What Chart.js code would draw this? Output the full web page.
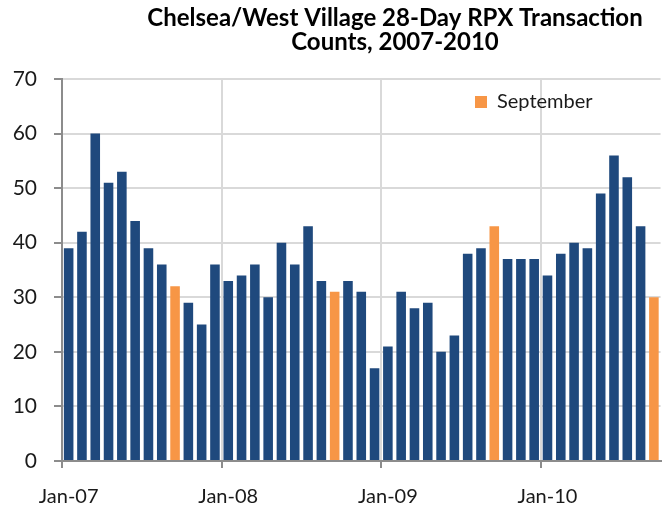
<!DOCTYPE html>
<html><head><meta charset="utf-8">
<script src="https://cdn.jsdelivr.net/npm/chart.js@4"></script>
<style>html,body{margin:0;padding:0;background:#fff}#wrap{width:671px;height:515px}</style>
</head><body><div id="wrap"><canvas id="c" width="671" height="515"></canvas></div>
<script>
const categories = [
  'Jan-07','Feb-07','Mar-07','Apr-07','May-07','Jun-07','Jul-07','Aug-07','Sep-07','Oct-07','Nov-07','Dec-07',
  'Jan-08','Feb-08','Mar-08','Apr-08','May-08','Jun-08','Jul-08','Aug-08','Sep-08','Oct-08','Nov-08','Dec-08',
  'Jan-09','Feb-09','Mar-09','Apr-09','May-09','Jun-09','Jul-09','Aug-09','Sep-09','Oct-09','Nov-09','Dec-09',
  'Jan-10','Feb-10','Mar-10','Apr-10','May-10','Jun-10','Jul-10','Aug-10','Sep-10'
];
const otherMonths = [
  39,42,60,51,53,44,39,36,null,29,25,36,
  33,34,36,30,40,36,43,33,null,33,31,17,
  21,31,28,29,20,23,38,39,null,37,37,37,
  34,38,40,39,49,56,52,43,null
];
const septemberMonths = [
  null,null,null,null,null,null,null,null,32,null,null,null,
  null,null,null,null,null,null,null,null,31,null,null,null,
  null,null,null,null,null,null,null,null,43,null,null,null,
  null,null,null,null,null,null,null,null,30
];
const yTicks = [0,10,20,30,40,50,60,70];
const titleLines = ['Chelsea/West Village 28-Day RPX Transaction', 'Counts, 2007-2010'];
const legendLabel = 'September';

const BLUE = '#1F497D', ORANGE = '#F79646';
const GRID = '#d9d9d9', AXIS = '#8c8c8c', TEXT = '#1a1a1a';
const FONT = 'Lato, "DejaVu Sans", sans-serif';

const shiftPlugin = {
  id: 'shift',
  afterLayout(chart) {
    const t = chart.titleBlock;
    if (t) { const c = (t.left + t.right) / 2; const d = 395 - c; t.left += d; t.right += d; }
    const l = chart.legend;
    if (l) { const w = l.width, h = l.height; l.left = 465; l.top = 82; l.right = l.left + w; l.bottom = l.top + h; }
  }
};

new Chart(document.getElementById('c'), {
  type: 'bar',
  data: {
    labels: categories,
    datasets: [
      { label: 'Other', data: otherMonths, backgroundColor: BLUE, grouped: false, barPercentage: 0.72, categoryPercentage: 1.0 },
      { label: legendLabel, data: septemberMonths, backgroundColor: ORANGE, grouped: false, barPercentage: 0.72, categoryPercentage: 1.0 }
    ]
  },
  options: {
    responsive: false,
    animation: false,
    devicePixelRatio: 1,
    layout: { padding: { left: 0, right: 10, top: 0, bottom: 0 } },
    plugins: {
      title: {
        display: true, text: titleLines, color: '#000',
        font: { family: FONT, size: 24, weight: 'bold', lineHeight: 1.0 },
        padding: { top: 6, bottom: 25 }
      },
      legend: {
        display: true, position: 'chartArea', align: 'start',
        labels: {
          filter: (item) => item.text === legendLabel,
          boxWidth: 12, boxHeight: 12, padding: 10, color: TEXT,
          font: { family: FONT, size: 20 }
        }
      },
      tooltip: { enabled: false }
    },
    scales: {
      x: {
        type: 'category', offset: true,
        grid: {
          offset: true, lineWidth: 2, tickLength: 7, tickWidth: 2,
          color: (ctx) => (ctx.index % 12 === 0 && ctx.index !== 0) ? GRID : 'rgba(0,0,0,0)',
          tickColor: (ctx) => (ctx.index % 12 === 0 && ctx.index < categories.length) ? AXIS : 'rgba(0,0,0,0)'
        },
        border: { color: AXIS, width: 2 },
        ticks: {
          autoSkip: false, maxRotation: 0, minRotation: 0, padding: 17, color: TEXT,
          font: { family: FONT, size: 20 },
          callback: (v, i) => (i % 12 === 0 ? categories[i] : '')
        },
        afterFit: (s) => { s.height = 54; }
      },
      y: {
        min: 0, max: 70,
        afterBuildTicks: (s) => { s.ticks = yTicks.map(v => ({ value: v })); },
        grid: {
          lineWidth: 2, tickLength: 8, tickWidth: 2,
          color: (ctx) => ctx.index === 0 ? 'rgba(0,0,0,0)' : GRID,
          tickColor: AXIS
        },
        border: { color: AXIS, width: 2 },
        ticks: { padding: 17, color: TEXT, font: { family: FONT, size: 21 } },
        afterFit: (s) => { s.width = 62; }
      }
    }
  },
  plugins: [shiftPlugin]
});
</script>
</body></html>
